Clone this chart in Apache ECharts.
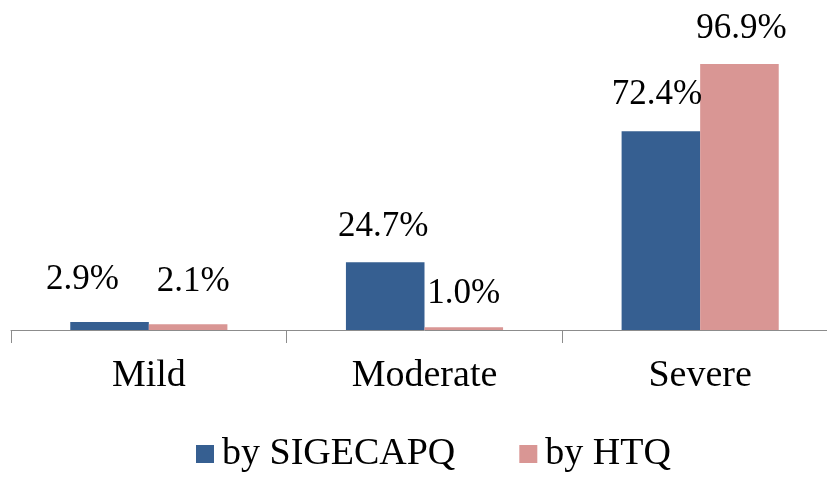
<!DOCTYPE html>
<html><head><meta charset="utf-8">
<script src="https://cdn.jsdelivr.net/npm/echarts@6/dist/echarts.min.js"></script>
<style>html,body{margin:0;padding:0;background:#fff;overflow:hidden;width:827px;height:477px}#c{width:838px;height:477px}</style>
</head><body><div id="c"></div>
<script>
const categories = ['Mild', 'Moderate', 'Severe'];
const seriesNames = ['by SIGECAPQ', 'by HTQ'];
const sigecapq = [2.9, 24.7, 72.4];
const htq = [2.1, 1.0, 96.9];

const font = '"Liberation Serif", "Times New Roman", serif';
const chart = echarts.init(document.getElementById('c'));
function lbl(offsets, distances) {
  return (v, i) => ({
    value: v,
    label: { offset: offsets[i], distance: distances[i] }
  });
}
chart.setOption({
  animation: false,
  grid: { left: 11, right: 0, top: 55.5, bottom: 147, containLabel: false },
  legend: {
    bottom: -1, left: 191,
    itemWidth: 18, itemHeight: 18, itemGap: 64,
    icon: 'rect',
    textStyle: { fontFamily: font, fontSize: 38, color: '#000', padding: [0, 0, 0, 3] },
    data: seriesNames
  },
  xAxis: {
    type: 'category', data: categories,
    axisLine: { lineStyle: { color: '#8c8c8c', width: 1 } },
    axisTick: { show: true, length: 13, lineStyle: { color: '#8c8c8c' } },
    axisLabel: { fontFamily: font, fontSize: 38, color: '#000', margin: 27 }
  },
  yAxis: { type: 'value', min: 0, max: 100, show: false, splitLine: { show: false } },
  series: [
    {
      name: seriesNames[0], type: 'bar', data: sigecapq.map(lbl([[-27,0],[-2,0],[-4,0]], [25,18,19])),
      barGap: '0%', barCategoryGap: '43%',
      itemStyle: { color: '#365F91' },
      label: { show: true, position: 'top', formatter: p => p.value.toFixed(1) + '%', fontFamily: font, fontSize: 35, color: '#000' }
    },
    {
      name: seriesNames[1], type: 'bar', data: htq.map(lbl([[5,0],[0,0],[2,0]], [25,16,18])),
      barGap: '0%', barCategoryGap: '43%',
      itemStyle: { color: '#D99694' },
      label: { show: true, position: 'top', formatter: p => p.value.toFixed(1) + '%', fontFamily: font, fontSize: 35, color: '#000' }
    }
  ]
});
</script></body></html>
